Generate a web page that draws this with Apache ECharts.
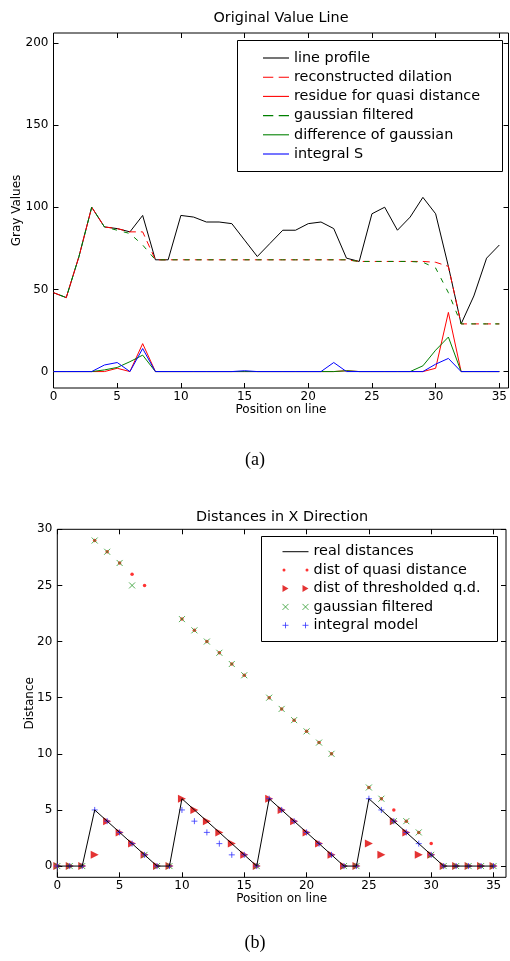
<!DOCTYPE html>
<html>
<head>
<meta charset="utf-8">
<script src="https://cdn.jsdelivr.net/npm/echarts@6/dist/echarts.min.js"></script>
<style>
  html, body { margin: 0; padding: 0; background: #fff; }
  #chart { width: 510px; height: 961px; }
</style>
</head>
<body>
<div id="chart"></div>
<script>
// Sample positions along the line
const positions = [0,1,2,3,4,5,6,7,8,9,10,11,12,13,14,15,16,17,18,19,20,21,22,23,24,25,26,27,28,29,30,31,32,33,34,35];

// Panel (a): gray values along the line
const lineProfile   = [48,45,70,100,88,87,85,95,68,68,95,94,91,91,90,80,70,78,86,86,90,91,87,69,67,96,100,86,94,106,96,64,29,46,69,77];
const reconDilation = [48,45,70,100,88,87,85,85,68,68,68,68,68,68,68,68,68,68,68,68,68,68,68,68,67,67,67,67,67,67,66.5,64,29,29,29,29];
const residueQuasi  = [0,0,0,0,0,2,0,17,0,0,0,0,0,0,0,0,0,0,0,0,0,0,0,0.5,0,0,0,0,0,0,2,36,0,0,0,0];
const gaussFiltered = [48,45,70,100,88,86,84,77,68,68,68,68,68,68,68,68,68,68,68,68,68,68,68,68,67,67,67,67,67,66.5,63,48,29,29,29,29];
const diffGaussian  = [0,0,0,0,1,2.5,6,10,0,0,0,0,0,0,0,0,0,0,0,0,0,0,0,0.5,0,0,0,0,0,3.5,13,21,0,0,0,0];
const integralS     = [0,0,0,0,4,5.5,0,14,0,0,0,0,0,0,0,0.5,0,0,0,0,0,0,5.5,0,0,0,0,0,0,0,4.5,8,0,0,0,0];

// Panel (b): distances in x direction
const realDist     = [0,0,0,5,4,3,2,1,0,0,6,5,4,3,2,1,0,6,5,4,3,2,1,0,0,6,5,4,3,2,1,0,0,0,0,0];
const quasiDist    = [0,0,0,29,28,27,26,25,0,0,22,21,20,19,18,17,0,15,14,13,12,11,10,0,0,7,6,5,4,3,2,0,0,0,0,0];
const threshDist   = [0,0,0,1,4,3,2,1,0,0,6,5,4,3,2,1,0,6,5,4,3,2,1,0,0,2,1,4,3,1,1,0,0,0,0,0];
const gaussDist    = [0,0,0,29,28,27,25,1,0,0,22,21,20,19,18,17,0,15,14,13,12,11,10,0,0,7,6,4,4,3,1,0,0,0,0,0];
const integralDist = [0,0,0,5,4,3,2,1,0,0,5,4,3,2,1,1,0,6,5,4,3,2,1,0,0,6,5,4,3,2,1,0,0,0,0,0];

// Tick values
const xTicks  = [0,5,10,15,20,25,30,35];
const yTicksA = [0,50,100,150,200];
const yTicksB = [0,5,10,15,20,25,30];

const FONT = '"DejaVu Sans", sans-serif';
const pairs = vals => vals.map((v, i) => [positions[i], v]);

// Dash patterns: the green dashes sit in the gaps of the red ones
const DASH_RED   = [7, 5];
const DASH_GREEN = [0, 7, 5, 0];

// Legend icon shapes
const ICON_LINE   = 'path://M0,0H240V10H0Z';
const ICON_DASH   = 'path://M0,0H95V10H0ZM145,0H240V10H145Z';
const ICON_LINE_B = 'path://M0,0H260V10H0Z';
const ICON_DOTS   = 'path://M0,15A15,15,0,1,0,30,15A15,15,0,1,0,0,15ZM230,15A15,15,0,1,0,260,15A15,15,0,1,0,230,15Z';
const ICON_TRIS   = 'path://M0,0L60,35L0,70ZM200,0L260,35L200,70Z';
const ICON_XS     = 'path://M0,0L60,60M60,0L0,60M200,0L260,60M260,0L200,60';
const ICON_PLUS   = 'path://M30,0V60M0,30H60M230,0V60M200,30H260';

// Marker shapes
const SYM_TRI  = 'path://M0,0L10,5L0,10Z';
const SYM_X    = 'path://M0,0L10,10M10,0L0,10';
const SYM_PLUS = 'path://M5,0V10M0,5H10';

function axisX(gridIndex, pos, min, max, withLabels, name) {
  return {
    type: 'value', gridIndex, position: pos, min, max,
    axisLine: { show: false, onZero: false },
    axisTick: { show: true, inside: true, length: 5, customValues: xTicks, lineStyle: { color: '#000', width: 1 } },
    axisLabel: { show: withLabels, customValues: xTicks, margin: 3, color: '#000', fontSize: 12, fontFamily: FONT },
    splitLine: { show: false },
    name: withLabels ? name : '',
    nameLocation: 'middle', nameGap: 16, nameMoveOverlap: false,
    nameTextStyle: { color: '#000', fontSize: 12, fontFamily: FONT }
  };
}
function axisY(gridIndex, pos, min, max, ticks, withLabels, name, gap, margin) {
  return {
    type: 'value', gridIndex, position: pos, min, max,
    axisLine: { show: false, onZero: false },
    axisTick: { show: true, inside: true, length: 5, customValues: ticks, lineStyle: { color: '#000', width: 1 } },
    axisLabel: { show: withLabels, customValues: ticks, margin: margin, color: '#000', fontSize: 12, fontFamily: FONT },
    splitLine: { show: false },
    name: withLabels ? name : '',
    nameLocation: 'middle', nameGap: gap, nameRotate: 90, nameMoveOverlap: false,
    nameTextStyle: { color: '#000', fontSize: 12, fontFamily: FONT }
  };
}
function lineSeries(name, vals, color, dash) {
  return {
    name, type: 'line', xAxisIndex: 0, yAxisIndex: 0,
    data: pairs(vals), showSymbol: false, symbol: 'none',
    lineStyle: { color, width: 1, type: dash || 'solid' },
    itemStyle: { color },
    animation: false
  };
}
function scatterSeries(name, vals, symbol, size, style) {
  return {
    name, type: 'scatter', xAxisIndex: 2, yAxisIndex: 2,
    data: pairs(vals), symbol, symbolSize: size,
    itemStyle: style, animation: false, clip: false
  };
}

const legendText = { color: '#000', fontSize: 14.4, fontFamily: FONT, lineHeight: 17 };

const chart = echarts.init(document.getElementById('chart'), null, { renderer: 'canvas' });

chart.setOption({
  backgroundColor: '#fff',
  animation: false,
  textStyle: { fontFamily: FONT },
  grid: [
    { left: 53.5, top: 33, width: 455, height: 355, show: true, borderColor: '#000', borderWidth: 1, backgroundColor: 'transparent' },
    { left: 57.3, top: 529.3, width: 448.7, height: 348, show: true, borderColor: '#000', borderWidth: 1, backgroundColor: 'transparent' }
  ],
  xAxis: [
    axisX(0, 'bottom', 0, 35.72, true, 'Position on line'),
    axisX(0, 'top', 0, 35.72, false),
    axisX(1, 'bottom', 0, 36, true, 'Position on line'),
    axisX(1, 'top', 0, 36, false)
  ],
  yAxis: [
    axisY(0, 'left', -10, 206, yTicksA, true, 'Gray Values', 31, 5),
    axisY(0, 'right', -10, 206, yTicksA, false),
    axisY(1, 'left', -1, 30, yTicksB, true, 'Distance', 21, 5),
    axisY(1, 'right', -1, 30, yTicksB, false)
  ],
  legend: [
    {
      z: 20, orient: 'vertical', left: 263, top: 49.5, padding: 0,
      itemWidth: 26, itemHeight: 10, itemGap: 2.2, selectedMode: false,
      textStyle: legendText,
      itemStyle: { borderWidth: 0 },
      data: [
        { name: 'line profile', icon: ICON_LINE },
        { name: 'reconstructed dilation', icon: ICON_DASH },
        { name: 'residue for quasi distance', icon: ICON_LINE },
        { name: 'gaussian filtered', icon: ICON_DASH },
        { name: 'difference of gaussian', icon: ICON_LINE },
        { name: 'integral S', icon: ICON_LINE }
      ]
    },
    {
      z: 20, orient: 'vertical', left: 282, top: 543.2, padding: 0,
      itemWidth: 26, itemHeight: 10, itemGap: 1.4, selectedMode: false,
      textStyle: legendText,
      data: [
        { name: 'real distances', icon: ICON_LINE_B, itemStyle: { borderWidth: 0 } },
        { name: 'dist of quasi distance', icon: ICON_DOTS, itemStyle: { borderWidth: 0 } },
        { name: 'dist of thresholded q.d.', icon: ICON_TRIS, itemStyle: { borderWidth: 0 } },
        { name: 'gaussian filtered ', icon: ICON_XS, itemStyle: { borderWidth: 1 } },
        { name: 'integral model', icon: ICON_PLUS, itemStyle: { borderWidth: 1 } }
      ]
    }
  ],
  graphic: [
    { type: 'rect', z: 1, shape: { x: 237.5, y: 40.5, width: 265, height: 131 }, style: { fill: '#fff', stroke: '#000', lineWidth: 1 } },
    { type: 'rect', z: 1, shape: { x: 261.5, y: 536.5, width: 236, height: 105 }, style: { fill: '#fff', stroke: '#000', lineWidth: 1 } },
    { type: 'text', x: 281, y: 18, style: { text: 'Original Value Line', align: 'center', verticalAlign: 'middle', font: '14.4px "DejaVu Sans"', fill: '#000' } },
    { type: 'text', x: 282, y: 517, style: { text: 'Distances in X Direction', align: 'center', verticalAlign: 'middle', font: '14.4px "DejaVu Sans"', fill: '#000' } },
    { type: 'text', x: 255, y: 460, style: { text: '(a)', align: 'center', verticalAlign: 'middle', font: '18px "Liberation Serif"', fill: '#000' } },
    { type: 'text', x: 255, y: 943, style: { text: '(b)', align: 'center', verticalAlign: 'middle', font: '18px "Liberation Serif"', fill: '#000' } }
  ],
  series: [
    lineSeries('line profile', lineProfile, '#000000'),
    lineSeries('reconstructed dilation', reconDilation, '#ff0000', DASH_RED),
    lineSeries('residue for quasi distance', residueQuasi, '#ff0000'),
    lineSeries('gaussian filtered', gaussFiltered, '#008000', DASH_GREEN),
    lineSeries('difference of gaussian', diffGaussian, '#008000'),
    lineSeries('integral S', integralS, '#0000ff'),
    {
      name: 'real distances', type: 'line', xAxisIndex: 2, yAxisIndex: 2,
      data: pairs(realDist), showSymbol: false, symbol: 'none',
      lineStyle: { color: '#000', width: 1 }, itemStyle: { color: '#000' }, animation: false
    },
    scatterSeries('dist of quasi distance', quasiDist, 'circle', 3.5, { color: '#ff0000' }),
    scatterSeries('dist of thresholded q.d.', threshDist, SYM_TRI, 8, { color: '#dd0000' }),
    scatterSeries('gaussian filtered ', gaussDist, SYM_X, 6, { color: 'rgba(0,0,0,0)', borderColor: '#2a9a2a', borderWidth: 1 }),
    scatterSeries('integral model', integralDist, SYM_PLUS, 6, { color: 'rgba(0,0,0,0)', borderColor: '#3333ff', borderWidth: 1 })
  ]
});
</script>
</body>
</html>
